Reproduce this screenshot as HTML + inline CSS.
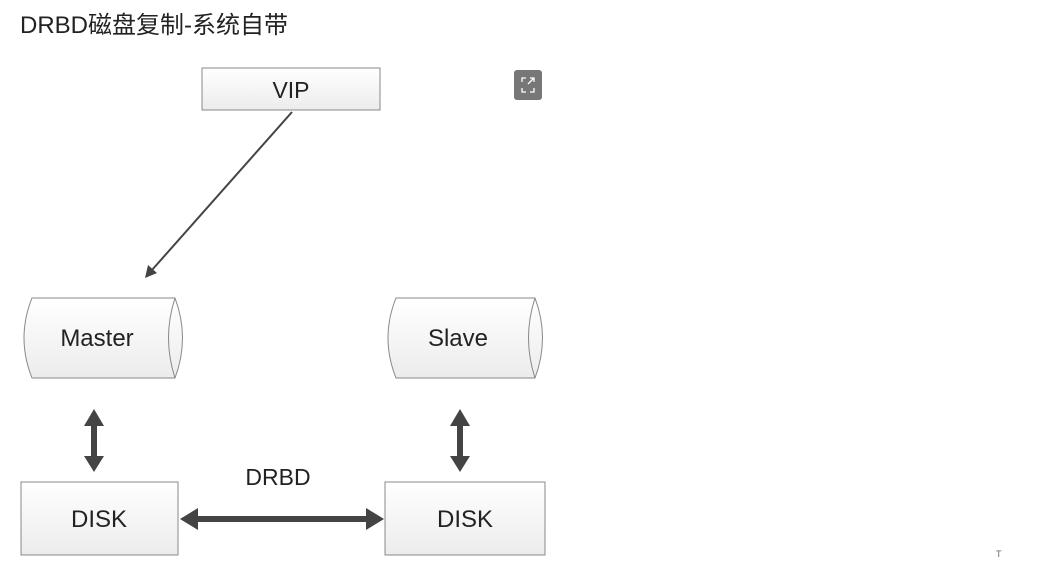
<!DOCTYPE html>
<html><head><meta charset="utf-8"><style>
body{margin:0;width:1054px;height:568px;background:#fff;overflow:hidden;position:relative;font-family:"Liberation Sans","Noto Sans CJK SC",sans-serif}
.t{position:absolute;left:20px;top:5px;font-size:24px;color:#222}
</style></head><body>
<div class="t">DRBD磁盘复制-系统自带</div>
<svg width="1054" height="568" style="position:absolute;left:0;top:0">
<defs>
<linearGradient id="g" x1="0" y1="0" x2="0" y2="1"><stop offset="0" stop-color="#fff"/><stop offset="1" stop-color="#ececec"/></linearGradient>
</defs>
<rect x="202" y="68" width="178" height="42" fill="url(#g)" stroke="#888"/>
<text x="291" y="98" font-size="23" text-anchor="middle" fill="#222" font-family="Liberation Sans">VIP</text>
<line x1="292" y1="112" x2="152" y2="270" stroke="#444" stroke-width="2"/>
<polygon points="145,278 148,265 157,273" fill="#444"/>
<path d="M32,298 H175 Q190,338 175,378 H32 Q16,338 32,298 Z" fill="url(#g)" stroke="#888"/>
<path d="M175,298 Q162,338 175,378" fill="none" stroke="#888"/>
<text x="97" y="346" font-size="24" text-anchor="middle" fill="#222" font-family="Liberation Sans">Master</text>
<path d="M396,298 H535 Q550,338 535,378 H396 Q380,338 396,298 Z" fill="url(#g)" stroke="#888"/>
<path d="M535,298 Q522,338 535,378" fill="none" stroke="#888"/>
<text x="458" y="346" font-size="24" text-anchor="middle" fill="#222" font-family="Liberation Sans">Slave</text>
<rect x="21" y="482" width="157" height="73" fill="url(#g)" stroke="#888"/>
<text x="99" y="527" font-size="24" text-anchor="middle" fill="#222" font-family="Liberation Sans">DISK</text>
<rect x="385" y="482" width="160" height="73" fill="url(#g)" stroke="#888"/>
<text x="465" y="527" font-size="24" text-anchor="middle" fill="#222" font-family="Liberation Sans">DISK</text>
<g fill="#444">
<rect x="91" y="420" width="6" height="42"/><polygon points="94,409 84,426 104,426"/><polygon points="94,472 84,456 104,456"/>
<rect x="457" y="420" width="6" height="42"/><polygon points="460,409 450,426 470,426"/><polygon points="460,472 450,456 470,456"/>
<rect x="192" y="516" width="180" height="6"/><polygon points="180,519 198,508 198,530"/><polygon points="384,519 366,508 366,530"/>
</g>
<text x="278" y="485" font-size="23" text-anchor="middle" fill="#222" font-family="Liberation Sans">DRBD</text>
<rect x="514" y="70" width="28" height="30" rx="3" fill="#777"/>
<path d="M522,82 v-4 h4 M534,78 l-6,6 M530,78 h4 v4 M522,88 v4 h4 M534,88 v4 h-4" stroke="#fff" stroke-width="1.3" fill="none"/>
<text x="996" y="557" font-size="9" fill="#666">T</text>
</svg>
</body></html>
